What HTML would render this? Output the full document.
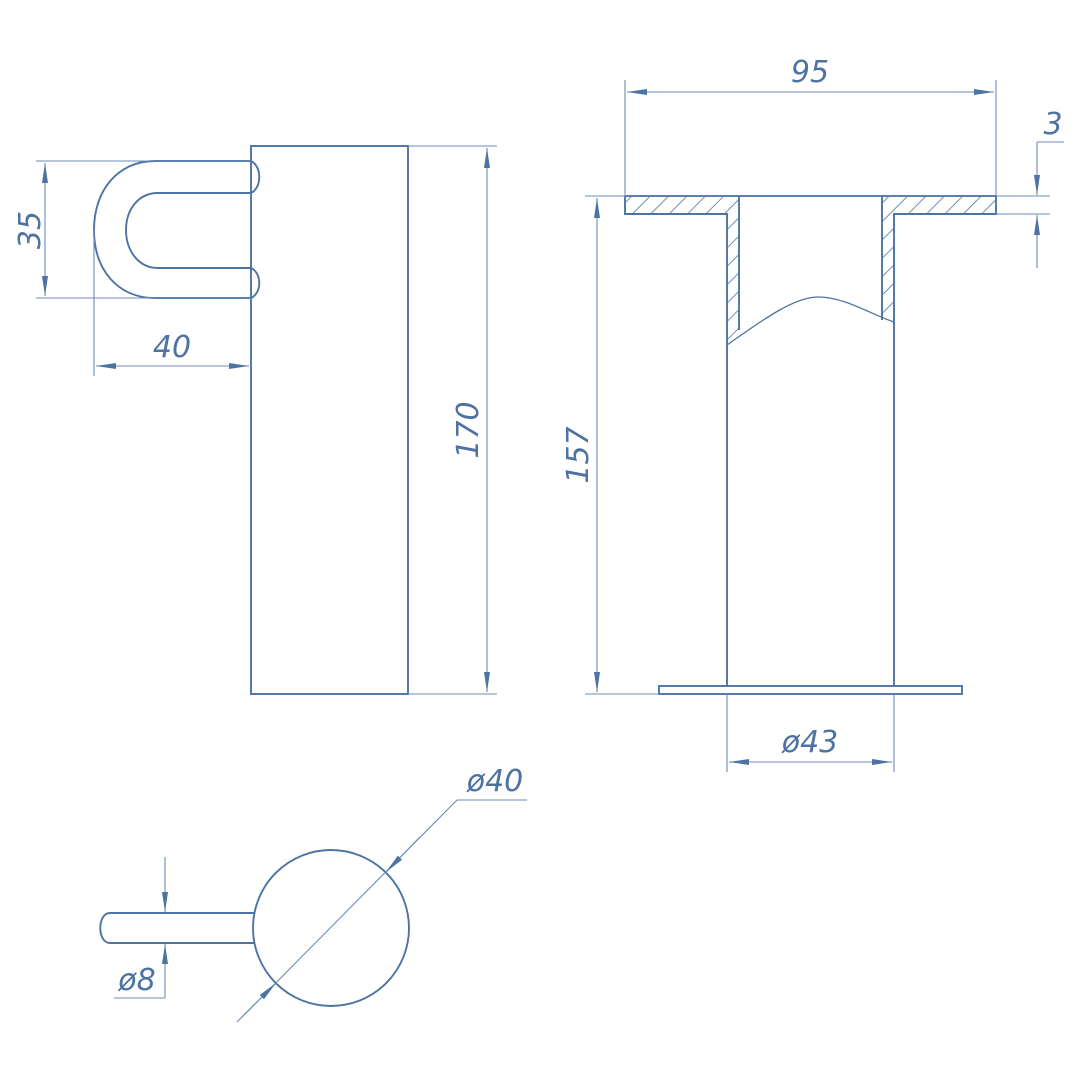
<!DOCTYPE html>
<html><head><style>body{margin:0;background:#fff}svg{display:block}</style></head><body>
<svg width="1080" height="1080" viewBox="0 0 1080 1080" xmlns="http://www.w3.org/2000/svg">
<defs>
<marker id="a" viewBox="0 0 20 8" refX="20" refY="4" markerWidth="20" markerHeight="8" markerUnits="userSpaceOnUse" orient="auto-start-reverse"><path d="M0,1 L20,4 L0,7 Z" fill="#4d73a3"/></marker>
<pattern id="h" patternUnits="userSpaceOnUse" width="13" height="13" patternTransform="rotate(45)"><line x1="0" y1="0" x2="0" y2="13" stroke="#4d73a3" stroke-width="1.6"/></pattern>
</defs>
<g fill="none" stroke="#4d73a3" stroke-width="1.9">
<rect x="251" y="146" width="157" height="548"/>
<path d="M251,161 H155 C118,161 94,190 94,230 C94,270 118,298 155,298 H251"/>
<path d="M251,193 H158 C138,193 126,210 126,230 C126,250 138,268 158,268 H251"/>
<path d="M251,161 C262,166 262,188 251,193 M251,268 C262,273 262,293 251,298"/>
</g>
<g fill="none" stroke="#6a8cba" stroke-width="1.1">
<line x1="36" y1="161" x2="251" y2="161"/><line x1="36" y1="298" x2="251" y2="298"/>
<line x1="45" y1="163" x2="45" y2="296" marker-start="url(#a)" marker-end="url(#a)"/>
<line x1="94" y1="230" x2="94" y2="376"/>
<line x1="96" y1="366" x2="249" y2="366" marker-start="url(#a)" marker-end="url(#a)"/>
<line x1="408" y1="146" x2="497" y2="146"/><line x1="408" y1="694" x2="497" y2="694"/>
<line x1="487" y1="148" x2="487" y2="692" marker-start="url(#a)" marker-end="url(#a)"/>
</g>
<path d="M625,196 H996 V214 H894 V320 L882,322 V214 H739 V330 L727,345 V214 H625 Z" fill="url(#h)" stroke="none"/>
<rect x="739" y="196" width="143" height="18" fill="#fff"/>
<path d="M739,214 V330 C770,315 795,297 818,297 C840,297 860,310 882,320 V214" fill="#fff" stroke="none"/>
<g fill="none" stroke="#4d73a3" stroke-width="1.9">
<path d="M625,196 H996 V214 H894 V686 M625,196 V214 H727 V686"/>
<path d="M739,196 V330 M882,196 V320"/>
<path d="M727,345 C765,318 795,297 818,297 C845,297 870,314 894,322" stroke-width="1.3"/>
<rect x="659" y="686" width="303" height="8"/>
</g>
<g fill="none" stroke="#6a8cba" stroke-width="1.1">
<line x1="585" y1="196" x2="1050" y2="196"/><line x1="996" y1="214" x2="1050" y2="214"/>
<line x1="625" y1="80" x2="625" y2="196"/><line x1="996" y1="80" x2="996" y2="196"/>
<line x1="627" y1="92" x2="994" y2="92" marker-start="url(#a)" marker-end="url(#a)"/>
<line x1="1037" y1="142" x2="1037" y2="195" marker-end="url(#a)"/>
<line x1="1037" y1="268" x2="1037" y2="215" marker-end="url(#a)"/>
<line x1="1037" y1="142" x2="1064" y2="142"/>
<line x1="585" y1="694" x2="659" y2="694"/>
<line x1="597" y1="198" x2="597" y2="692" marker-start="url(#a)" marker-end="url(#a)"/>
<line x1="727" y1="694" x2="727" y2="772"/><line x1="894" y1="694" x2="894" y2="772"/>
<line x1="729" y1="762" x2="892" y2="762" marker-start="url(#a)" marker-end="url(#a)"/>
</g>
<g fill="none" stroke="#4d73a3" stroke-width="1.9">
<circle cx="331" cy="928" r="78"/>
<path d="M254,913 H110 C97,913 97,943 110,943 H254"/>
</g>
<g fill="none" stroke="#6a8cba" stroke-width="1.1">
<line x1="165" y1="857" x2="165" y2="912" marker-end="url(#a)"/>
<line x1="165" y1="998" x2="165" y2="944" marker-end="url(#a)"/>
<line x1="114" y1="998" x2="165" y2="998"/>
<line x1="237" y1="1022" x2="457" y2="800"/>
<line x1="457" y1="800" x2="527" y2="800"/>
<line x1="420" y1="837" x2="386" y2="872" marker-end="url(#a)"/>
<line x1="242" y1="1017" x2="276" y2="983" marker-end="url(#a)"/>
</g>
<g fill="#4d73a3" font-family="'DejaVu Sans','Liberation Sans',sans-serif" font-style="italic" font-size="30">
<text x="172" y="357" text-anchor="middle">40</text>
<text transform="translate(40,230) rotate(-90)" text-anchor="middle">35</text>
<text transform="translate(478,430) rotate(-90)" text-anchor="middle">170</text>
<text x="810" y="82" text-anchor="middle">95</text>
<text x="1053" y="134" text-anchor="middle">3</text>
<text transform="translate(588,455) rotate(-90)" text-anchor="middle">157</text>
<text x="810" y="752" text-anchor="middle">ø43</text>
<text x="137" y="990" text-anchor="middle">ø8</text>
<text x="495" y="791" text-anchor="middle">ø40</text>
</g>
</svg>
</body></html>
